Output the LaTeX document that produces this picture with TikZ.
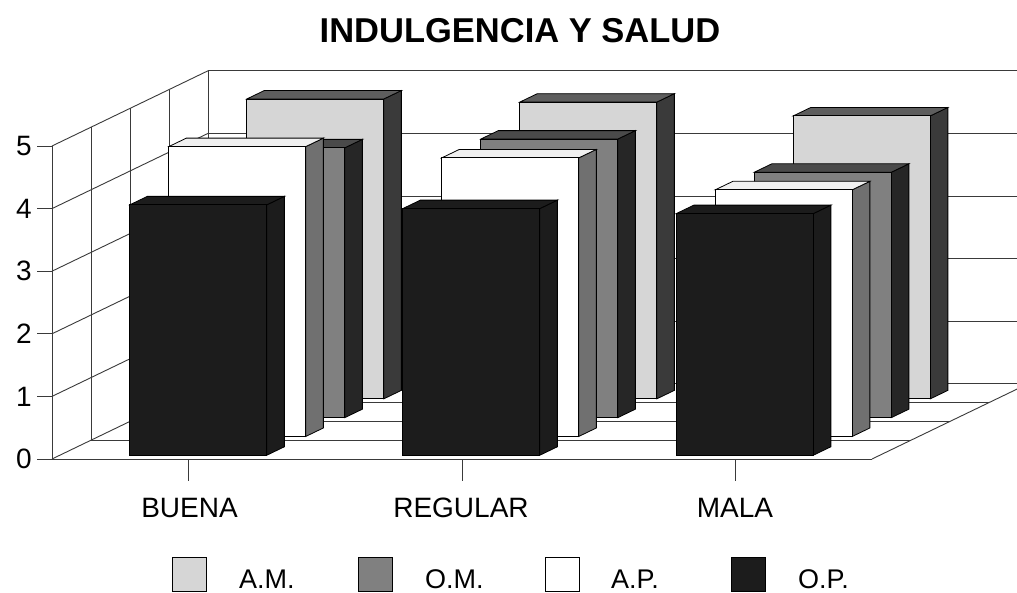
\documentclass[tikz,border=0pt]{standalone}
\usepackage{fontspec}
\setmainfont{Liberation Sans}
\definecolor{gridc}{HTML}{3A3A3A}
\definecolor{amF}{HTML}{D6D6D6}
\definecolor{amT}{HTML}{5E5E5E}
\definecolor{amS}{HTML}{3A3A3A}
\definecolor{omF}{HTML}{808080}
\definecolor{omT}{HTML}{4A4A4A}
\definecolor{omS}{HTML}{262626}
\definecolor{apF}{HTML}{FFFFFF}
\definecolor{apT}{HTML}{F0F0F0}
\definecolor{apS}{HTML}{707070}
\definecolor{opF}{HTML}{1C1C1C}
% #1 X left, #2 X right, #3 row, #4 value, #5 front, #6 top, #7 side
\newcommand{\mybarbox}[7]{%
  \pgfmathsetmacro{\df}{#3+0.2}%
  \pgfmathsetmacro{\db}{#3+0.65}%
  \pgfmathsetmacro{\xa}{52+#1+\df*39}%
  \pgfmathsetmacro{\xb}{52+#2+\df*39}%
  \pgfmathsetmacro{\xc}{52+#1+\db*39}%
  \pgfmathsetmacro{\xd}{52+#2+\db*39}%
  \pgfmathsetmacro{\yfb}{459-\df*18.8}%
  \pgfmathsetmacro{\yft}{459-#4*62.6-\df*18.8}%
  \pgfmathsetmacro{\ybb}{459-\db*18.8}%
  \pgfmathsetmacro{\ybt}{459-#4*62.6-\db*18.8}%
  \filldraw[barline, fill=#7] (\xb,\yfb) -- (\xd,\ybb) -- (\xd,\ybt) -- (\xb,\yft) -- cycle;
  \filldraw[barline, fill=#6] (\xa,\yft) -- (\xc,\ybt) -- (\xd,\ybt) -- (\xb,\yft) -- cycle;
  \filldraw[barline, fill=#5] (\xa,\yfb) rectangle (\xb,\yft);
}
\begin{document}
\begin{tikzpicture}[x=1pt,y=-1pt,
  grid/.style={draw=gridc, line width=0.9pt},
  barline/.style={draw=black, line width=0.8pt, line join=miter},
  lbl/.style={font=\fontsize{28}{30}\selectfont, inner sep=0pt},
  leglbl/.style={font=\fontsize{27}{30}\selectfont, inner sep=0pt, anchor=base west},
  swatch/.style={draw=black, line width=0.8pt}]
\fill[white] (0,0) rectangle (1017,593);
\useasboundingbox (0,0) rectangle (1017,593);
\begin{scope}
\clip (0,0) rectangle (1017,593);
% back wall horizontal lines
\foreach \v in {0,...,5} {
  \draw[grid] (208,{459-\v*62.6-75.2}) -- (1028,{459-\v*62.6-75.2});
  % left wall diagonals
  \draw[grid] (52,{459-\v*62.6}) -- (208,{459-\v*62.6-75.2});
  % y ticks
  \draw[grid] (37,{459-\v*62.6}) -- (52,{459-\v*62.6});
}
% left wall verticals
\foreach \d in {0,...,4} {
  \draw[grid] ({52+\d*39},{459-\d*18.8}) -- ({52+\d*39},{459-313-\d*18.8});
}
% floor lines
\foreach \d in {0,...,3} {
  \draw[grid] ({52+\d*39},{459-\d*18.8}) -- ({872+\d*39},{459-\d*18.8});
}
\draw[grid] (872,459) -- (1028,383.8);
% category ticks
\foreach \cx in {188.7,462,735.3} {
  \draw[grid] (\cx,459) -- (\cx,481);
}
\end{scope}
% bars: back row to front row
\mybarbox{70}{207}{3}{4.79}{amF}{amT}{amS}
\mybarbox{343}{480}{3}{4.74}{amF}{amT}{amS}
\mybarbox{616.5}{753.5}{3}{4.52}{amF}{amT}{amS}
\mybarbox{70}{207}{2}{4.31}{omF}{omT}{omS}
\mybarbox{343}{480}{2}{4.45}{omF}{omT}{omS}
\mybarbox{616.5}{753.5}{2}{3.92}{omF}{omT}{omS}
\mybarbox{70}{207}{1}{4.63}{apF}{apT}{apS}
\mybarbox{343}{480}{1}{4.45}{apF}{apT}{apS}
\mybarbox{616.5}{753.5}{1}{3.94}{apF}{apT}{apS}
\mybarbox{70}{207}{0}{4.0}{opF}{opF}{opF}
\mybarbox{343}{480}{0}{3.94}{opF}{opF}{opF}
\mybarbox{616.5}{753.5}{0}{3.86}{opF}{opF}{opF}
% title
\node[font=\fontsize{34.5}{38}\selectfont\bfseries, inner sep=0pt, anchor=base] (title) at (520,43) {INDULGENCIA Y SALUD};
% y labels
\foreach \v in {0,...,5} {
  \node[lbl, anchor=east] (y\v) at (32,{459-\v*62.6}) {\v};
}
% category labels
\node[lbl, anchor=base] (buena) at (189.5,517) {BUENA};
\node[lbl, anchor=base] (regular) at (461,517) {REGULAR};
\node[lbl, anchor=base] (mala) at (735,517) {MALA};
% legend
\draw[swatch, fill=amF] (172,557) rectangle (206,591);
\node[leglbl] (lam) at (239,588) {A.M.};
\draw[swatch, fill=omF] (358,557) rectangle (392,591);
\node[leglbl] (lom) at (425,588) {O.M.};
\draw[swatch, fill=apF] (545,557) rectangle (579,591);
\node[leglbl] (lap) at (611,588) {A.P.};
\draw[swatch, fill=opF] (731,557) rectangle (765,591);
\node[leglbl] (lop) at (798,588) {O.P.};
\end{tikzpicture}
\end{document}
